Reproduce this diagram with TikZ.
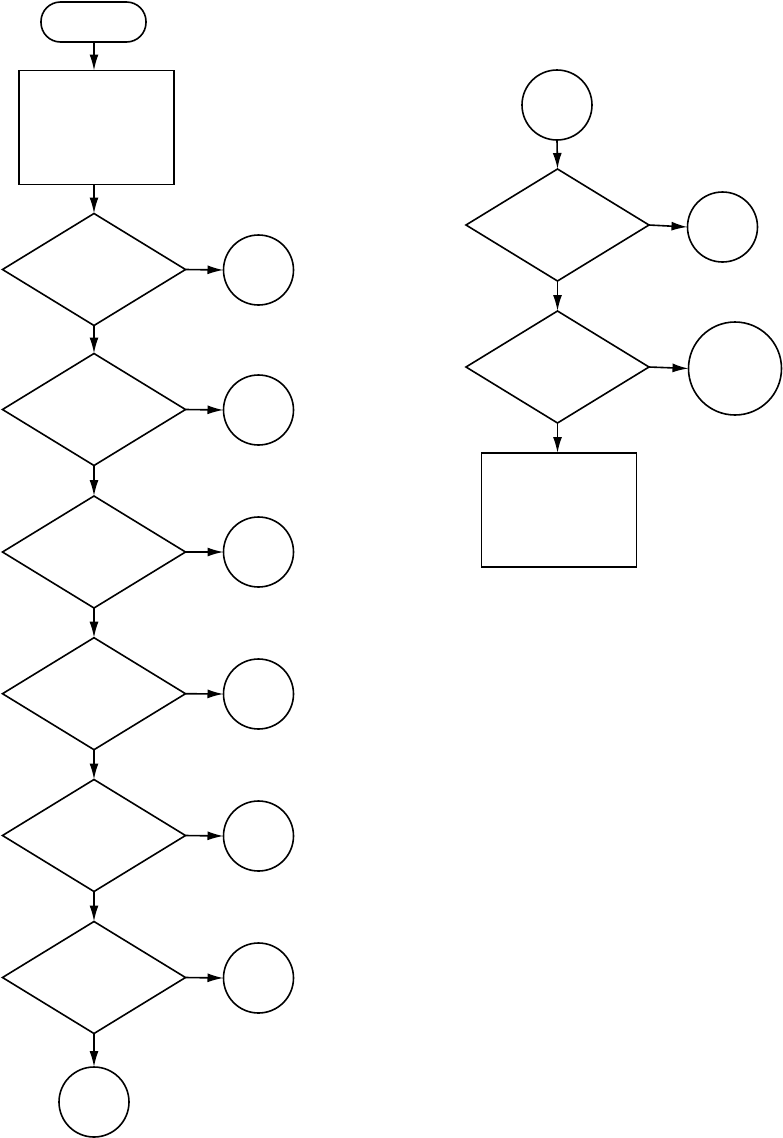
\documentclass[tikz,border=0pt]{standalone}
\usetikzlibrary{shapes.geometric,arrows.meta}
\begin{document}
\begin{tikzpicture}[x=1pt,y=-1pt,
  every node/.style={draw,line width=1.6pt,inner sep=0pt,outer sep=0pt},
  term/.style={rectangle,rounded corners=19.5pt,minimum width=105pt,minimum height=40pt},
  procbox/.style={rectangle,minimum width=155pt,minimum height=114pt},
  decision/.style={diamond,minimum width=183pt,minimum height=112pt},
  conn/.style={circle,minimum size=70pt},
  bigconn/.style={circle,minimum size=93pt},
  arr/.style={line width=1.6pt,-{Latex[length=16pt,width=9pt]}}
]
\useasboundingbox (0,0) rectangle (783,1138);
% left column
\node[term] (start) at (93.5,22) {};
\node[procbox] (b1) at (96.5,127.5) {};
\node[decision] (d1) at (94,269.5) {};
\node[decision] (d2) at (94,409.5) {};
\node[decision] (d3) at (94,552) {};
\node[decision] (d4) at (94,693.7) {};
\node[decision] (d5) at (94,835.5) {};
\node[decision] (d6) at (94,977.5) {};
\node[conn] (c1) at (258.5,270) {};
\node[conn] (c2) at (258.5,410) {};
\node[conn] (c3) at (258.5,552) {};
\node[conn] (c4) at (258.5,694) {};
\node[conn] (c5) at (258.5,836) {};
\node[conn] (c6) at (258.5,978) {};
\node[conn] (cb) at (94,1102) {};
% right column
\node[conn] (r0) at (557,105) {};
\node[decision] (e1) at (557.5,225) {};
\node[decision] (e2) at (557.5,367) {};
\node[conn] (r1) at (722.5,227) {};
\node[bigconn] (r2) at (735,368.5) {};
\node[procbox] (b2) at (559,510) {};
% connectors
\draw[arr] (d1.south |- start.south) -- (d1.north |- b1.north);
\draw[arr] (d1.north |- b1.south) -- (d1.north);
\draw[arr] (d1.south) -- (d2.north);
\draw[arr] (d2.south) -- (d3.north);
\draw[arr] (d3.south) -- (d4.north);
\draw[arr] (d4.south) -- (d5.north);
\draw[arr] (d5.south) -- (d6.north);
\draw[arr] (d6.south) -- (cb.north);
\draw[arr] (d1.east) -- (c1.west);
\draw[arr] (d2.east) -- (c2.west);
\draw[arr] (d3.east) -- (c3.west);
\draw[arr] (d4.east) -- (c4.west);
\draw[arr] (d5.east) -- (c5.west);
\draw[arr] (d6.east) -- (c6.west);
\draw[arr] (r0.south) -- (e1.north);
\draw[arr] (e1.south) -- (e2.north);
\draw[arr] (e2.south) -- (e2.south |- b2.north);
\draw[arr] (e1.east) -- (r1.west);
\draw[arr] (e2.east) -- (r2.west);
\end{tikzpicture}
\end{document}
